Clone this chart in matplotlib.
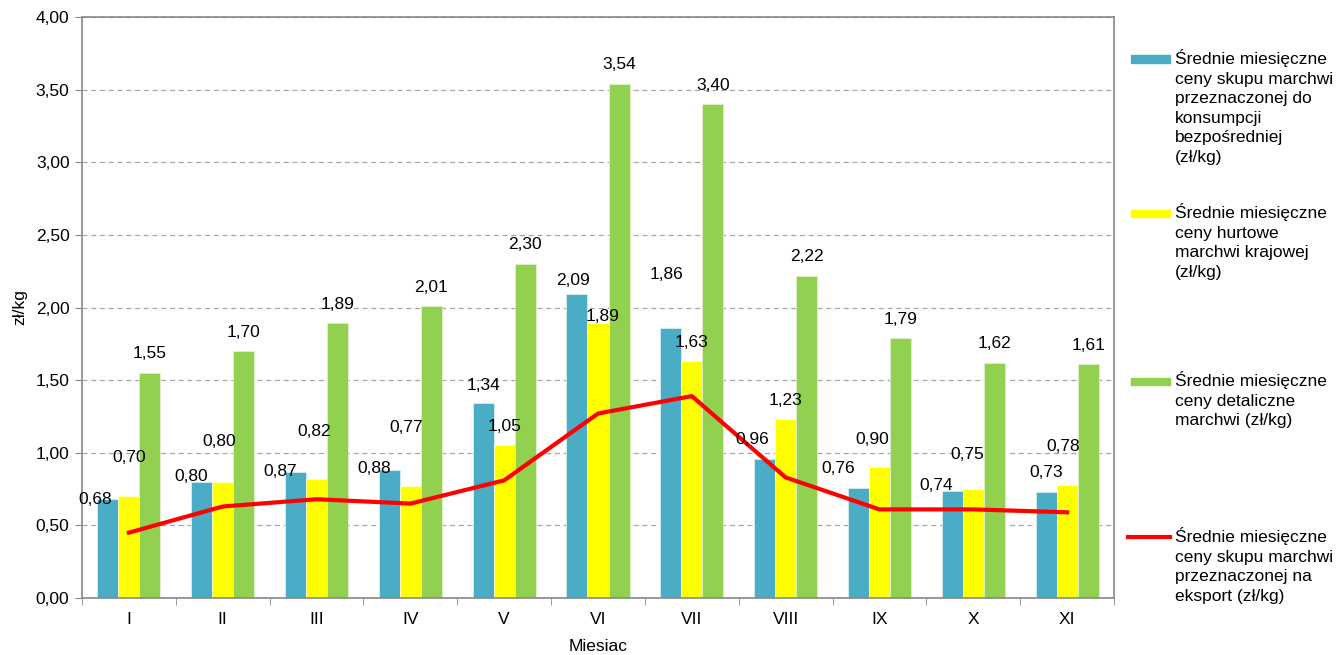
import matplotlib
matplotlib.use("Agg")
import matplotlib.pyplot as plt
from matplotlib.patches import Rectangle
from matplotlib.lines import Line2D
from matplotlib.ticker import FixedLocator, FuncFormatter
from matplotlib import transforms
import numpy as np

plt.rcParams['font.family'] = ['Liberation Sans', 'DejaVu Sans']

months = ["I", "II", "III", "IV", "V", "VI", "VII", "VIII", "IX", "X", "XI"]
skup_konsumpcja = [0.68, 0.80, 0.87, 0.88, 1.34, 2.09, 1.86, 0.96, 0.76, 0.74, 0.73]
hurtowe = [0.70, 0.80, 0.82, 0.77, 1.05, 1.89, 1.63, 1.23, 0.90, 0.75, 0.78]
detaliczne = [1.55, 1.70, 1.89, 2.01, 2.30, 3.54, 3.40, 2.22, 1.79, 1.62, 1.61]
skup_eksport = [0.45, 0.63, 0.68, 0.65, 0.81, 1.27, 1.39, 0.83, 0.61, 0.61, 0.59]

legend_labels = [
    "Średnie miesięczne\nceny skupu marchwi\nprzeznaczonej do\nkonsumpcji\nbezpośredniej\n(zł/kg)",
    "Średnie miesięczne\nceny hurtowe\nmarchwi krajowej\n(zł/kg)",
    "Średnie miesięczne\nceny detaliczne\nmarchwi (zł/kg)",
    "Średnie miesięczne\nceny skupu marchwi\nprzeznaczonej na\neksport (zł/kg)",
]

# label shifts (pixels) as placed in the original chart
blue_dx = [-13, -11, -15, -15, 0, -4, -4, -12, -20, -16, 0]
blue_dy = [0, 5, 0, 2, 18, 14, 53, 19, 19, 5, 19]
yellow_dx = [0, -4, -2, -4, 0, 5, 0, 0, -7, -6, -4]
yellow_dy = [39, 40, 47, 59, 19, 7, 19, 19, 28, 35, 38]

c_blue = "#4BACC6"
c_yellow = "#FFFF00"
c_green = "#92D050"
c_red = "#FF0000"
grey = "#888888"


def fmt(v):
    return ("%.2f" % v).replace(".", ",")


fig = plt.figure(figsize=(13.39, 6.55), dpi=100)
ax = fig.add_axes([82 / 1339, 1 - 598 / 655, (1114 - 82) / 1339, (598 - 17) / 655])

x = np.arange(len(months))
w = 0.224
ax.bar(x - w, skup_konsumpcja, w, color=c_blue, edgecolor="#d8eef3", linewidth=0.6, zorder=2)
ax.bar(x, hurtowe, w, color=c_yellow, edgecolor="#ffffcc", linewidth=0.6, zorder=2)
ax.bar(x + w, detaliczne, w, color=c_green, edgecolor="#dff0cc", linewidth=0.6, zorder=2)
ax.plot(x, skup_eksport, color=c_red, linewidth=3, zorder=3)


def px(dx, dy):
    return transforms.offset_copy(ax.transData, fig=fig, x=dx, y=dy, units='dots')


for i in range(len(months)):
    ax.text(x[i] - w, skup_konsumpcja[i], fmt(skup_konsumpcja[i]),
            transform=px(blue_dx[i], blue_dy[i]), ha='center', va='center',
            fontsize=12.5, zorder=4)
    ax.text(x[i], hurtowe[i], fmt(hurtowe[i]),
            transform=px(yellow_dx[i], yellow_dy[i]), ha='center', va='center',
            fontsize=12.5, zorder=4)
    ax.text(x[i] + w, detaliczne[i], fmt(detaliczne[i]),
            transform=px(0, 19), ha='center', va='center', fontsize=12.5, zorder=4)

ax.set_xlim(-0.5, len(months) - 0.5)
ax.set_ylim(0, 4)
ax.yaxis.set_major_locator(FixedLocator(np.arange(0, 4.01, 0.5)))
ax.yaxis.set_major_formatter(FuncFormatter(lambda v, p: fmt(v)))
ax.grid(axis='y', color="#a6a6a6", linestyle=(0, (4, 3)), linewidth=0.9, zorder=0)
ax.set_axisbelow(True)

ax.set_xticks(x)
ax.set_xticklabels(months, fontsize=12.5)
ax.set_xticks(np.arange(-0.5, len(months), 1), minor=True)
ax.tick_params(axis='x', which='major', length=0, pad=10)
ax.tick_params(axis='x', which='minor', length=5, color=grey, direction='out')
ax.tick_params(axis='y', length=5, color=grey, labelsize=12.5, pad=4)

for s in ax.spines.values():
    s.set_color(grey)
    s.set_linewidth(1.2)

ax.set_ylabel("zł/kg", fontsize=12.5, labelpad=6)
ax.set_xlabel("Miesiac", fontsize=12.5, labelpad=9)

# legend drawn by hand to keep text top-aligned with handles
H = 655.0
W = 1339.0
tops = [59, 213, 381, 537]
kinds = [c_blue, c_yellow, c_green, c_red]
for t, col, lab in zip(tops, kinds, legend_labels):
    yc = 1 - t / H
    if col == c_red:
        fig.add_artist(Line2D([1128 / W, 1170 / W], [yc, yc], color=col, linewidth=3,
                              transform=fig.transFigure))
    else:
        fig.add_artist(Rectangle((1131 / W, yc - 3.5 / H), 39 / W, 7 / H, color=col,
                                 transform=fig.transFigure))
    fig.text(1175 / W, yc + 10 / H, lab, ha='left', va='top', fontsize=12.5, linespacing=1.38)

fig.savefig("out.png", dpi=100)
